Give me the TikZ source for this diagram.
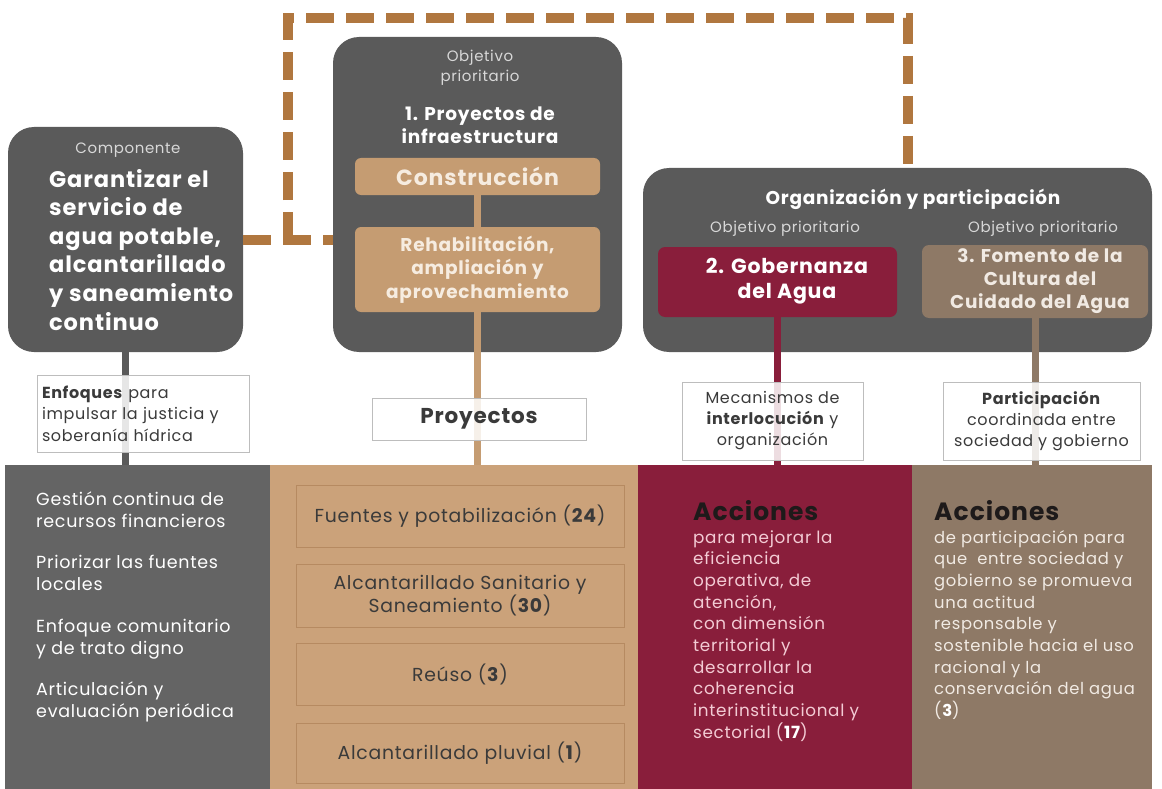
\documentclass[tikz,border=0pt]{standalone}
\usepackage{fontspec}
\setmainfont{Poppins}[LetterSpace=4]
\usetikzlibrary{calc}
\definecolor{boxgray}{HTML}{5A5A5A}
\definecolor{colgray}{HTML}{646464}
\definecolor{boxtan}{HTML}{C59C72}
\definecolor{coltan}{HTML}{CBA27A}
\definecolor{tanedge}{HTML}{B68A61}
\definecolor{dashbrown}{HTML}{B0773F}
\definecolor{wine}{HTML}{891E3B}
\definecolor{taupe}{HTML}{8E7966}
\definecolor{lgray}{HTML}{D8D8D8}
\definecolor{cream}{HTML}{F6ECE0}
\definecolor{pinkt}{HTML}{F3CBD4}
\definecolor{taupet}{HTML}{F1EAE3}
\definecolor{darkt}{HTML}{3A3A3A}
\definecolor{inkt}{HTML}{1E1A1A}
\newcommand{\fs}[2]{\fontsize{#1}{#2}\selectfont}
\begin{document}
\begin{tikzpicture}[x=1pt,y=-1pt,
  bigbox/.style={fill=boxgray, rounded corners=26pt, inner sep=0pt},
  tanbox/.style={fill=boxtan, rounded corners=6pt, inner sep=0pt, text=cream, align=center},
  colbox/.style={inner sep=0pt, anchor=north west},
  labelbox/.style={draw=lgray!70!gray, line width=0.8pt, fill=white, fill opacity=0.85, text opacity=1, inner sep=0pt, align=center, text=darkt},
  itembox/.style={draw=tanedge, line width=0.8pt, fill=coltan, inner sep=0pt, align=center, text=darkt, minimum width=328pt},
  conn/.style={line width=7pt},
  dashline/.style={draw=dashbrown, line width=10pt, dash pattern=on 28pt off 12pt},
  lbl/.style={inner sep=0pt}
]
\useasboundingbox[fill=white] (0,0) rectangle (1162,789);

% bottom columns
\node[colbox, fill=colgray, minimum width=265pt, minimum height=324pt] (gcol) at (5,465) {};
\node[colbox, fill=coltan, minimum width=368pt, minimum height=324pt] (tcol) at (270,465) {};
\node[colbox, fill=wine, minimum width=274pt, minimum height=324pt] (rcol) at (638,465) {};
\node[colbox, fill=taupe, minimum width=240pt, minimum height=324pt] (pcol) at (912,465) {};

% dashed link
\coordinate (jn) at (288,240);
\coordinate (ca) at (288,18);
\coordinate (cb) at (908,18);
\coordinate (cc) at (908,170);

% big boxes
\node[bigbox, minimum width=235pt, minimum height=225pt] (comp) at (125.5,239.5) {};
\node[bigbox, minimum width=289pt, minimum height=315pt] (mid) at (477.5,194.5) {};
\node[bigbox, minimum width=509pt, minimum height=184pt] (org) at (897.5,260) {};

\draw[dashline] (comp.east |- jn) -- (mid.west |- jn);
\draw[dashline] (jn) -- (ca) -- (cb) -- (cc);

% component text
\node[lbl, text=lgray, font=\fs{15}{18}] (compL) at (128,150) {Componente};
\node[lbl, anchor=base west, align=left, text=white, font=\bfseries\fs{22.5}{28.6}] (compT) at (49,330)
 {Garantizar el\\servicio de\\agua potable,\\alcantarillado\\y saneamiento\\continuo};

% middle box
\node[lbl, anchor=base, align=center, text=lgray, font=\fs{15}{20}] (midL) at (480,81.5) {Objetivo\\prioritario};
\node[lbl, anchor=base, align=center, text=white, font=\bfseries\fs{18.5}{23}] (midT) at (480,143.5) {1. Proyectos de\\infraestructura};
\node[tanbox, minimum width=245pt, minimum height=37pt, font=\bfseries\fs{22}{24}] (cons) at (477.5,176.5) {Construcción};
\node[tanbox, minimum width=245pt, minimum height=85pt, font=\bfseries\fs{18.5}{23.5}] (rehab) at (477.5,269.5) {Rehabilitación,\\ampliación y\\aprovechamiento};

% org box
\node[lbl, text=white, font=\bfseries\fs{18.5}{20}] (orgT) at (913,199) {Organización y participación};
\node[lbl, text=lgray, font=\fs{15}{17}] (orgL1) at (785,229) {Objetivo prioritario};
\node[lbl, text=lgray, font=\fs{15}{17}] (orgL2) at (1043,229) {Objetivo prioritario};
\node[fill=wine, rounded corners=7pt, inner sep=0pt, minimum width=239pt, minimum height=70pt] (gob) at (777.5,282) {};
\node[lbl, align=center, text=white, font=\bfseries\fs{20.5}{25}] (gobT) at (787,281) {2. Gobernanza\\del Agua};
\node[fill=taupe, rounded corners=7pt, inner sep=0pt, minimum width=226pt, minimum height=73pt] (fom) at (1035,281.5) {};
\node[lbl, align=center, text=taupet, font=\bfseries\fs{18.5}{23}] (fomT) at (1040,281.5) {3. Fomento de la\\Cultura del\\Cuidado del Agua};

% connectors
\draw[conn, boxtan] (cons.south) -- (rehab.north);
\draw[conn, boxgray] (comp.south) -- (comp.south |- gcol.north);
\draw[conn, boxtan] (rehab.south) -- (rehab.south |- tcol.north);
\draw[conn, wine] (gob.south) -- (gob.south |- rcol.north);
\draw[conn, taupe] (fom.south) -- (fom.south |- pcol.north);

% label boxes
\node[labelbox, text width=202pt, align=left, inner xsep=5pt, minimum height=77pt, font=\fs{16}{21.5}] (enf) at (143,413.5) {\textbf{Enfoques} para\\impulsar la justicia y\\soberanía hídrica};
\node[labelbox, minimum width=214pt, minimum height=42pt, font=\bfseries\fs{21.5}{24}] (proy) at (479,419) {Proyectos};
\node[labelbox, minimum width=181pt, minimum height=78pt, font=\fs{16}{21}] (mec) at (772.5,421) {Mecanismos de\\\textbf{interlocución} y\\organización};
\node[labelbox, minimum width=197pt, minimum height=78pt, font=\fs{16}{21}] (par) at (1041.5,421) {\textbf{Participación}\\coordinada entre\\sociedad y gobierno};

% gray column text
\node[lbl, anchor=base west, align=left, text=white, font=\fs{17.5}{22}] (g1) at (36,527) {Gestión continua de\\recursos financieros};
\node[lbl, anchor=base west, align=left, text=white, font=\fs{17.5}{22}] (g2) at (36,590) {Priorizar las fuentes\\locales};
\node[lbl, anchor=base west, align=left, text=white, font=\fs{17.5}{22}] (g3) at (36,654) {Enfoque comunitario\\y de trato digno};
\node[lbl, anchor=base west, align=left, text=white, font=\fs{17.5}{22}] (g4) at (36,717) {Articulación y\\evaluación periódica};

% tan items
\node[itembox, minimum height=62pt, font=\fs{18.8}{22}] (it1) at (460,516) {Fuentes y potabilización (\textbf{24})};
\node[itembox, minimum height=63pt, font=\fs{18.8}{22}] (it2) at (460,595.5) {Alcantarillado Sanitario y\\Saneamiento (\textbf{30})};
\node[itembox, minimum height=62pt, font=\fs{18.8}{22}] (it3) at (460,674) {Reúso (\textbf{3})};
\node[itembox, minimum height=60pt, font=\fs{18.8}{22}] (it4) at (460,753) {Alcantarillado pluvial (\textbf{1})};

% wine column
\node[lbl, anchor=base west, text=inkt, font=\bfseries\fs{25}{28}] (ac1) at (693,520) {Acciones};
\node[lbl, anchor=base west, align=left, text=pinkt, font=\fs{16.8}{21.7}] (ac1t) at (693,738.3)
 {para mejorar la\\eficiencia\\operativa, de\\atención,\\con dimensión\\territorial y\\desarrollar la\\coherencia\\interinstitucional y\\sectorial (\textbf{\textcolor{white}{17}})};

% taupe column
\node[lbl, anchor=base west, text=inkt, font=\bfseries\fs{25}{28}] (ac2) at (934,520) {Acciones};
\node[lbl, anchor=base west, align=left, text=taupet, font=\fs{16.4}{21.7}] (ac2t) at (934,716.6)
 {de participación para\\que \ entre sociedad y\\gobierno se promueva\\una actitud\\responsable y\\sostenible hacia el uso\\racional y la\\conservación del agua\\(\textbf{\textcolor{white}{3}})};
\end{tikzpicture}
\end{document}
